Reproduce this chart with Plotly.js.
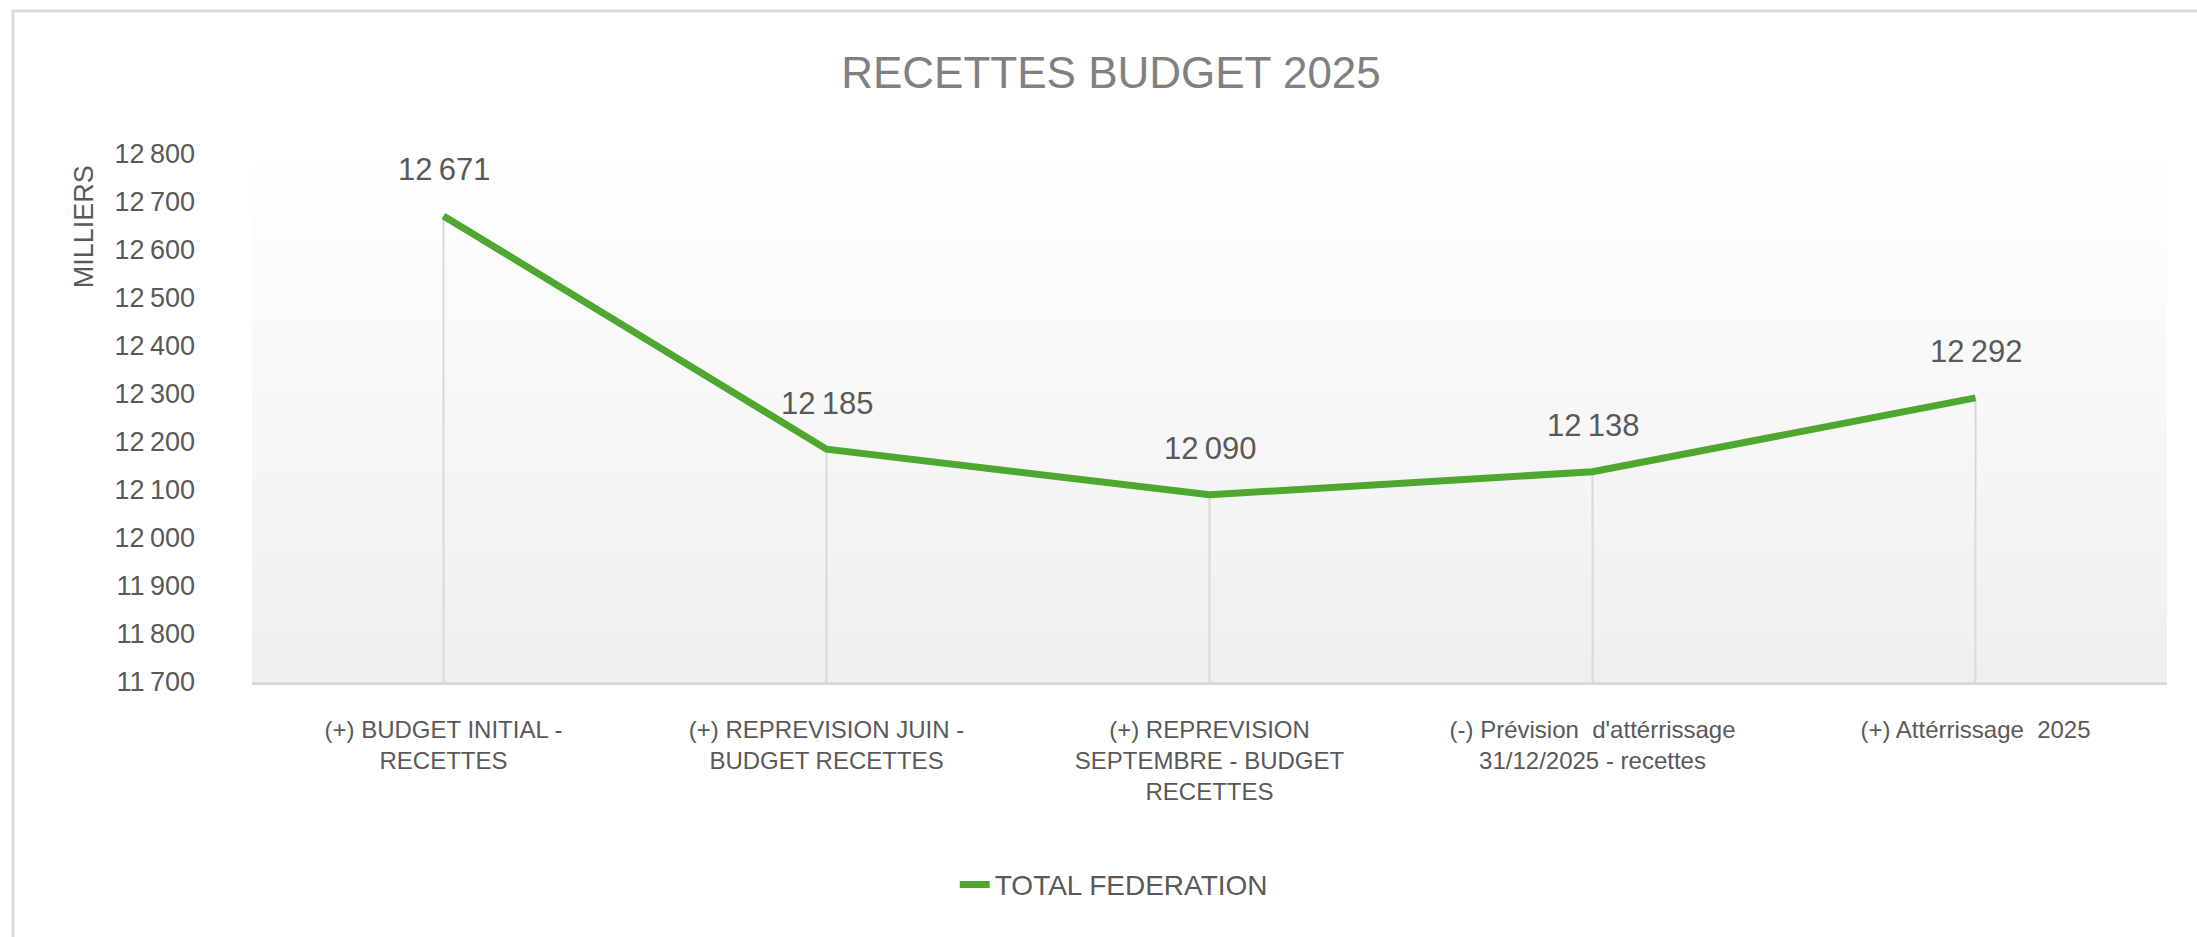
<!DOCTYPE html>
<html>
<head>
<meta charset="utf-8">
<script src="https://cdn.plot.ly/plotly-3.0.1.min.js"></script>
<style>
  html, body { margin: 0; padding: 0; background: #fff; }
  #chart { width: 2197px; height: 937px; }
</style>
</head>
<body>
<div id="chart"></div>
<script>
var categories = [
  '(+) BUDGET INITIAL - RECETTES',
  '(+) REPREVISION JUIN - BUDGET RECETTES',
  '(+) REPREVISION SEPTEMBRE - BUDGET RECETTES',
  "(-) Prévision  d'attérrissage 31/12/2025 - recettes",
  '(+) Attérrissage  2025'
];
var tickLabels = [
  '(+) BUDGET INITIAL -<br>RECETTES',
  '(+) REPREVISION JUIN -<br>BUDGET RECETTES',
  '(+) REPREVISION<br>SEPTEMBRE - BUDGET<br>RECETTES',
  "(-) Prévision  d'attérrissage<br>31/12/2025 - recettes",
  '(+) Attérrissage  2025'
];
var totalFederation = [12671, 12185, 12090, 12138, 12292];
var yMin = 11700, yMax = 12800;

var green = '#4ea72e';
var font = 'Liberation Sans, Arial, sans-serif';

// thin vertical drop lines from each point to the axis
var drops = {
  x: categories,
  y: totalFederation,
  type: 'scatter',
  mode: 'markers',
  marker: {size: 1, opacity: 0},
  showlegend: false,
  hoverinfo: 'skip',
  error_y: {
    type: 'data',
    symmetric: false,
    array: totalFederation.map(function () { return 0; }),
    arrayminus: totalFederation.map(function (v) { return v - yMin; }),
    color: '#d9d9d9',
    thickness: 2,
    width: 0
  }
};

var line = {
  x: categories,
  y: totalFederation,
  type: 'scatter',
  mode: 'lines',
  name: 'TOTAL FEDERATION',
  line: {color: green, width: 7}
};

var fmt = function (v) {
  return String(v).replace(/\B(?=(\d{3})+(?!\d))/g, '\u202f');
};

var labels = categories.map(function (c, i) {
  return {
    x: c, y: totalFederation[i], xref: 'x', yref: 'y',
    text: fmt(totalFederation[i]),
    showarrow: false, yshift: 46,
    font: {family: font, size: 31, color: '#595959'}
  };
});

labels.push({
  text: 'MILLIERS', xref: 'paper', yref: 'paper',
  x: -0.088, y: 0.862, xanchor: 'center', yanchor: 'middle',
  textangle: -90, showarrow: false,
  font: {family: font, size: 27, color: '#595959'}
});

var gradient = 'data:image/svg+xml;utf8,' + encodeURIComponent(
  '<svg xmlns="http://www.w3.org/2000/svg" width="100" height="100" preserveAspectRatio="none">' +
  '<defs><linearGradient id="g" x1="0" y1="0" x2="0" y2="1">' +
  '<stop offset="0" stop-color="#ffffff"/><stop offset="1" stop-color="#efefef"/>' +
  '</linearGradient></defs><rect width="100" height="100" fill="url(#g)"/></svg>');

var layout = {
  width: 2197, height: 937,
  margin: {l: 252, r: 30, t: 154, b: 255},
  paper_bgcolor: '#ffffff',
  plot_bgcolor: 'rgba(0,0,0,0)',
  font: {family: font, color: '#595959'},
  title: {
    text: 'RECETTES BUDGET 2025',
    x: 0.5057, xanchor: 'center', y: 0.922, yanchor: 'middle',
    font: {family: font, size: 44, color: '#808080'}
  },
  xaxis: {
    type: 'category',
    tickvals: categories,
    ticktext: tickLabels,
    range: [-0.5, 4.5],
    showgrid: false,
    showline: true, linecolor: '#d9d9d9', linewidth: 3,
    ticks: '', ticklabelstandoff: 24,
    tickfont: {family: font, size: 24, color: '#595959'},
    fixedrange: true
  },
  yaxis: {
    range: [yMin, yMax],
    dtick: 100,
    tickformat: ',d',
    showgrid: false, zeroline: false, showline: false,
    ticks: '', ticklabelstandoff: 56,
    tickfont: {family: font, size: 27, color: '#595959'},
    fixedrange: true
  },
  separators: '.\u202f',
  showlegend: true,
  legend: {
    orientation: 'h',
    x: 0.45, xanchor: 'center', y: -0.384, yanchor: 'middle',
    font: {family: font, size: 28, color: '#595959'},
    bgcolor: 'rgba(0,0,0,0)'
  },
  annotations: labels,
  images: [{
    source: gradient, xref: 'paper', yref: 'paper',
    x: 0, y: 1, sizex: 1, sizey: 1, sizing: 'stretch',
    xanchor: 'left', yanchor: 'top', layer: 'below'
  }],
  shapes: [{
    type: 'rect', xref: 'paper', yref: 'paper',
    x0: -0.1248, x1: 1.05, y0: -0.55, y1: 1.271,
    line: {color: '#d9d9d9', width: 3}, fillcolor: 'rgba(0,0,0,0)'
  }]
};

Plotly.newPlot('chart', [drops, line], layout, {displayModeBar: false, staticPlot: true});
</script>
</body>
</html>
